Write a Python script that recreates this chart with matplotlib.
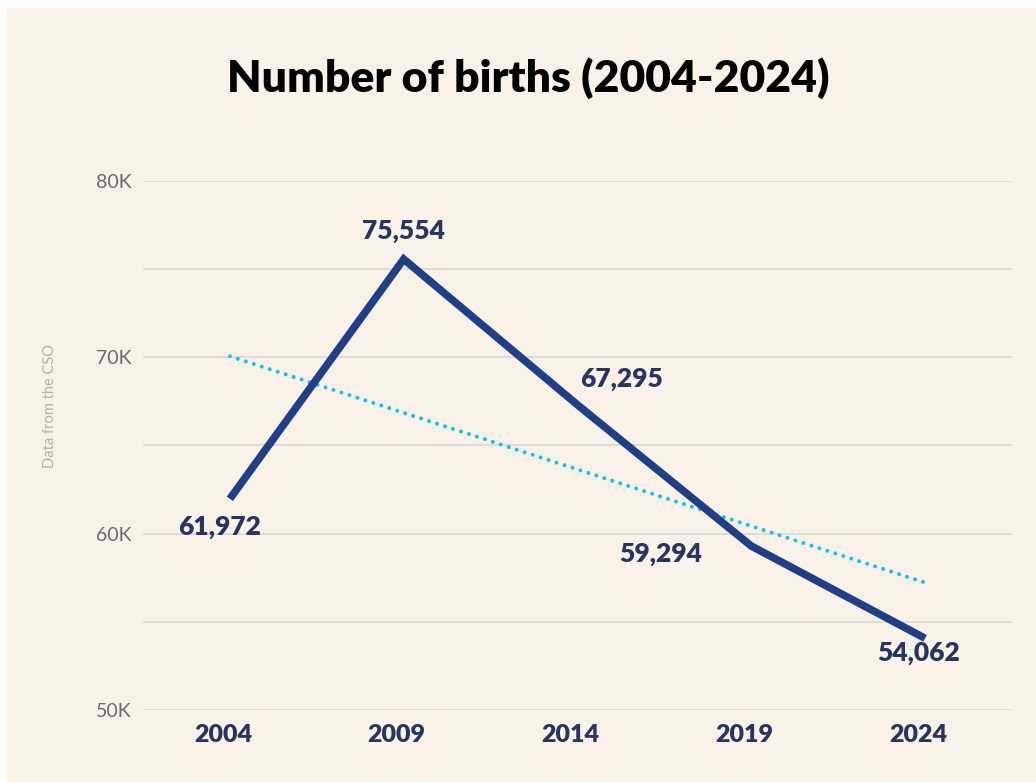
import matplotlib
matplotlib.use("Agg")
import matplotlib.pyplot as plt
import numpy as np
from matplotlib.patches import Rectangle

years = ["2004", "2009", "2014", "2019", "2024"]
births = [61972, 75554, 67295, 59294, 54062]
label_texts = ["61,972", "75,554", "67,295", "59,294", "54,062"]
ytick_vals = [50000, 60000, 70000, 80000]
ytick_labels = ["50K", "60K", "70K", "80K"]

BG = "#FAF2E8"
NAVY = "#203F86"
TEXT_NAVY = "#263660"
CYAN = "#1BC0E4"

W, H = 1036, 782
fig = plt.figure(figsize=(W / 100, H / 100), dpi=100, facecolor="white")
fig.patches.append(Rectangle((7 / W, 0), 1 - 7 / W, 1 - 8 / H, transform=fig.transFigure,
                             facecolor=BG, edgecolor="none", zorder=-10))

left, right = 143 / W, 1012 / W
y80, y50 = 180.7, 710
ax = fig.add_axes([left, 1 - y50 / H, right - left, (y50 - y80) / H])
ax.set_facecolor("none")

x = np.arange(len(years))
ax.set_xlim(-0.5, len(years) - 0.5)
ax.set_ylim(50000, 80000)

for v in np.arange(50000, 80001, 5000):
    ax.axhline(v, color="#DCDADA", lw=1.3, zorder=1)

ax.plot(x, births, color=NAVY, lw=5.5, solid_joinstyle="miter", solid_capstyle="butt", zorder=3)

coef = np.polyfit(x, births, 1)
trend = np.polyval(coef, x)
ax.plot(x, trend, color=CYAN, lw=2.9, linestyle=(0, (0.01, 2.07)), dash_capstyle="round", zorder=2)

offsets = [(-7.5, -20), (0, 20), (32, 18.5), (-65, -6), (-5, -10.5)]
for xi, yi, t, (dx, dy) in zip(x, births, label_texts, offsets):
    ax.annotate(t, (xi, yi), xytext=(dx, dy), textcoords="offset points",
                ha="center", va="center", fontsize=19, fontweight="heavy",
                color=TEXT_NAVY, fontfamily="Lato", zorder=4)

# category labels sit slightly left of the band centres, as in the original
ax.set_xticks(x - 0.04)
ax.set_xticklabels(years, fontsize=18, fontweight="heavy", color=TEXT_NAVY, fontfamily="Lato")
ax.set_yticks(ytick_vals)
ax.set_yticklabels(ytick_labels, fontsize=14, color="#6A6A6A", fontfamily="Lato")
ax.tick_params(axis="both", length=0)
ax.tick_params(axis="x", pad=10)
ax.tick_params(axis="y", pad=8)
for s in ax.spines.values():
    s.set_visible(False)

fig.text(528 / W, 1 - 78 / H, "Number of births (2004-2024)", ha="center", va="center",
         fontsize=32, fontweight="heavy", color="black", fontfamily="Lato")
fig.text(50 / W, 1 - 406 / H, "Data from the CSO", rotation=90, ha="center", va="center",
         fontsize=10.5, color="#B5B0AC", fontfamily="Lato")

fig.savefig("out.png", dpi=100, facecolor=fig.get_facecolor())
